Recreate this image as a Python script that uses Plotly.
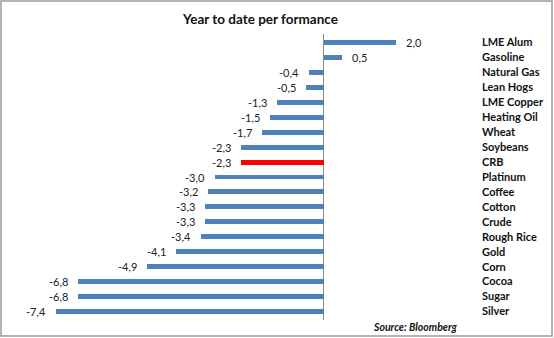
import plotly.graph_objects as go

commodities = ["LME Alum", "Gasoline", "Natural Gas", "Lean Hogs", "LME Copper",
               "Heating Oil", "Wheat", "Soybeans", "CRB", "Platinum", "Coffee",
               "Cotton", "Crude", "Rough Rice", "Gold", "Corn", "Cocoa", "Sugar", "Silver"]
ytd_change = [2.0, 0.5, -0.4, -0.5, -1.3, -1.5, -1.7, -2.3, -2.3, -3.0, -3.2,
              -3.3, -3.3, -3.4, -4.1, -4.9, -6.8, -6.8, -7.4]

highlight = "CRB"
colors = ["#FF0000" if c == highlight else "#4F81BD" for c in commodities]
labels = [f"{v:.1f}".replace(".", ",") for v in ytd_change]

FONT = "Lato, Open Sans, sans-serif"

fig = go.Figure(go.Bar(
    x=ytd_change,
    y=commodities,
    orientation="h",
    width=0.33,
    marker=dict(color=colors, line=dict(width=0)),
))

L, R, T, B = 40, 78, 34, 18
W, H = 554, 338
pw, ph = W - L - R, H - T - B

def px_x(p):
    return (p - L) / pw

def px_y(p):
    return (H - B - p) / ph

# value labels placed just beyond each bar end
value_notes = [
    dict(x=v, y=c, xref="x", yref="y", text=t, showarrow=False,
         xanchor="left" if v >= 0 else "right", xshift=8 if v >= 0 else -8,
         font=dict(family=FONT, size=11, color="#222222"))
    for c, v, t in zip(commodities, ytd_change, labels)
]

fig.update_layout(
    width=W, height=H,
    margin=dict(l=L, r=R, t=T, b=B),
    paper_bgcolor="white", plot_bgcolor="white",
    showlegend=False,
    bargap=0,
    xaxis=dict(range=[-7.845, 4.2], showgrid=False, showticklabels=False,
               zeroline=True, zerolinecolor="#8C8C8C", zerolinewidth=1,
               ticks="", fixedrange=True),
    yaxis=dict(autorange="reversed", side="right", showgrid=False,
               showline=False, ticks="", ticklabelstandoff=5,
               tickfont=dict(family=FONT, size=11,
                             color="#111111", weight="bold"),
               automargin=False),
    shapes=[dict(type="rect", xref="paper", yref="paper",
                 x0=px_x(1), x1=px_x(552), y0=px_y(336), y1=px_y(1),
                 line=dict(color="#9A9A9A", width=1.5), layer="below")],
    annotations=value_notes + [
        dict(text="<b>Year to date per formance</b>", xref="paper", yref="paper",
             x=px_x(260), y=px_y(19), xanchor="center", yanchor="middle",
             showarrow=False,
             font=dict(family=FONT, size=13.5, color="#111111")),
        dict(text="<b><i>Source: Bloomberg</i></b>", xref="paper", yref="paper",
             x=px_x(415), y=px_y(327), xanchor="center", yanchor="middle",
             showarrow=False,
             font=dict(family=FONT, size=10.5, color="#111111")),
    ],
)

fig.write_html("out.html")
